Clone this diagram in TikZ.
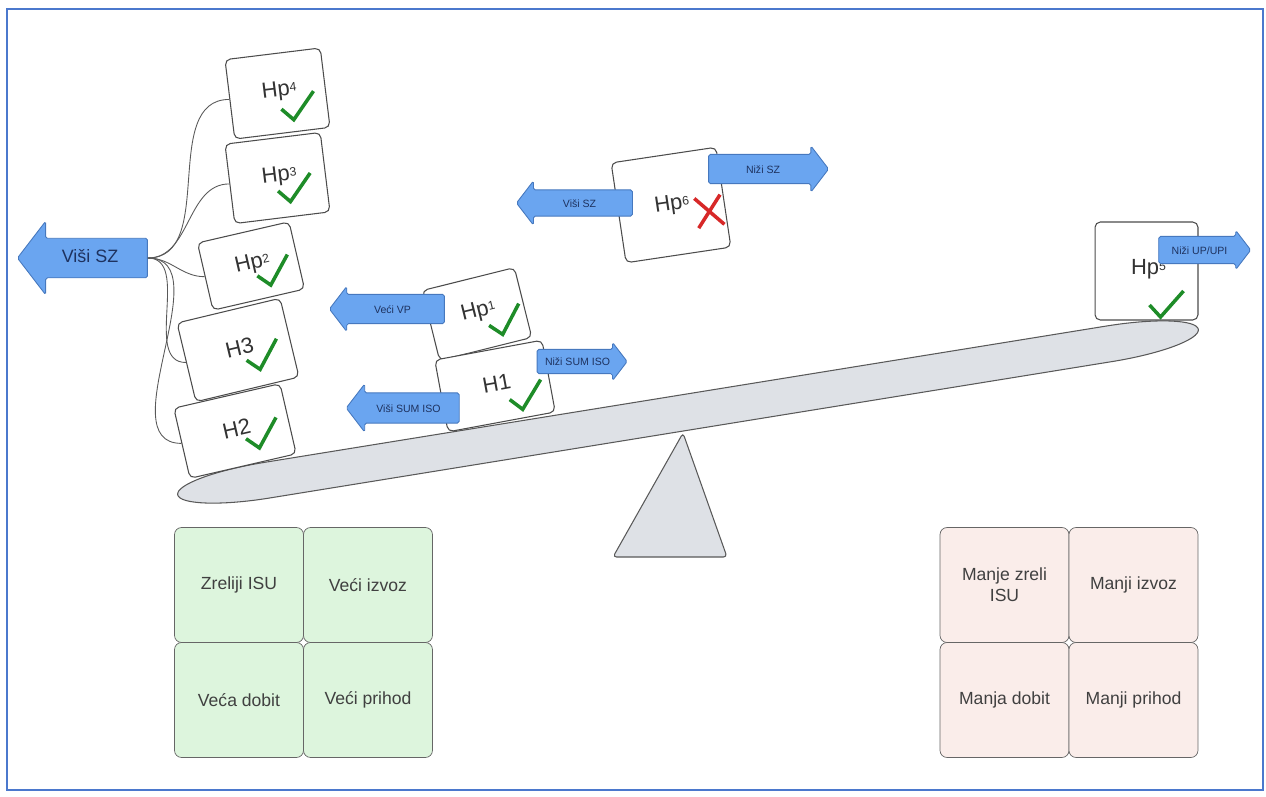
\documentclass[tikz,border=0pt]{standalone}
\usepackage{fontspec}
\setmainfont{Liberation Sans}
\usetikzlibrary{shapes.arrows,positioning}

\definecolor{frameblue}{RGB}{75,120,205}
\definecolor{arrowblue}{RGB}{106,165,240}
\definecolor{arrowedge}{RGB}{70,120,190}
\definecolor{arrowtext}{RGB}{30,50,95}
\definecolor{tickgreen}{RGB}{30,140,40}
\definecolor{crossred}{RGB}{215,40,40}
\definecolor{plankgray}{RGB}{222,225,230}
\definecolor{cellgreen}{RGB}{221,245,221}
\definecolor{cellpink}{RGB}{250,237,234}

\newcommand{\hpsub}[1]{\raisebox{1.9pt}{\fontsize{7}{8}\selectfont #1}}

\begin{document}
\begin{tikzpicture}[x=0.02cm,y=-0.02cm,
    card/.style={draw=black!70,fill=white,rounded corners=3pt,line width=0.6pt},
    cardtext/.style={font=\fontsize{12.5}{14}\selectfont,text=black!80},
    tick/.style={draw=tickgreen,line width=2pt},
    cross/.style={draw=crossred,line width=2pt},
    barrow/.style={single arrow,draw=arrowedge,fill=arrowblue,text=arrowtext,
      single arrow tip angle=105,rounded corners=1pt,inner xsep=1pt,line width=0.5pt,
      text height=0.7em,text depth=0.2em,font=\fontsize{6}{7}\selectfont},
    larrow/.style={barrow,shape border rotate=180},
    link/.style={draw=black!65,line width=0.5pt},
    seesaw/.style={draw=black!65,fill=plankgray,line width=0.6pt},
    gcell/.style={draw=black!60,fill=cellgreen,rounded corners=4pt,minimum width=2.58cm,
      minimum height=2.3cm,align=center,font=\fontsize{10}{12}\selectfont,text=black!75},
    pcell/.style={gcell,fill=cellpink}]

\useasboundingbox (0,0) rectangle (1266,796);
\draw[frameblue,line width=1.6pt] (7,9) rectangle (1263,790);

% seesaw
\begin{scope}[shift={(688,412)},rotate=9.2,y=0.02cm]
  \filldraw[seesaw] (-427,18) -- (427,18)
    arc[start angle=90,end angle=-90,x radius=90,y radius=18] -- (-427,-18)
    arc[start angle=270,end angle=90,x radius=90,y radius=18] -- cycle;
\end{scope}
\filldraw[seesaw,rounded corners=2pt] (683,433) -- (727,557) -- (613,557) -- cycle;

% cards
\foreach \nm/\cx/\cy/\ang/\w/\h/\txt/\kx/\ky in {
    hp4/277.5/93.5/7/1.92/1.60/{Hp\hpsub{4}}/19/15,
    hp3/277.5/178/7/1.92/1.60/{Hp\hpsub{3}}/16/12,
    hp2/251/266/13/1.88/1.38/{Hp\hpsub{2}}/21/10,
    h3/238/350/13.5/2.12/1.62/{H3}/23/11,
    h2/235/431/13/2.18/1.44/{H2}/26/9,
    hp1/477/314/14/1.90/1.44/{Hp\hpsub{1}}/26/13,
    h1/495/386/10.5/2.18/1.46/{H1}/29/15,
    hp5/1146.5/271/0/2.06/1.96/{Hp\hpsub{5}}/20/33}
{
  \begin{scope}[shift={(\cx,\cy)},rotate=\ang,transform shape]
    \node[card,minimum width=\w cm,minimum height=\h cm] (\nm) at (0,0) {};
    \node[cardtext] at (2,-2) {\txt};
    \draw[tick] (\kx-17,\ky+1) -- (\kx-6,\ky+13) -- (\kx+17,\ky-13);
  \end{scope}
}
\begin{scope}[shift={(671,205)},rotate=8.5,transform shape]
  \node[card,minimum width=2.12cm,minimum height=2.02cm] (hp6) at (0,0) {};
  \node[cardtext] at (1,0) {Hp\hpsub{6}};
  \draw[cross] (24,-3) -- (50,27) (50,-3) -- (24,27);
\end{scope}

% arrows
\node[larrow,minimum height=2.6cm,inner ysep=0.228cm,single arrow head extend=0.34cm,
  font=\fontsize{10.2}{12}\selectfont] (vsz) at (90,258) {Viši SZ};
\node[larrow,minimum height=2.3cm,inner ysep=0.125cm,single arrow head extend=0.16cm] (vvp) at (392.5,309) {Veći VP};
\node[larrow,minimum height=2.26cm,inner ysep=0.135cm,single arrow head extend=0.18cm] (vsum) at (408.5,408) {Viši SUM ISO};
\node[barrow,minimum height=1.8cm,inner ysep=0.075cm,single arrow head extend=0.14cm] (nsum) at (577.5,361.5) {Niži SUM ISO};
\node[larrow,minimum height=2.32cm,inner ysep=0.095cm,single arrow head extend=0.18cm] (vsz6) at (579.5,203) {Viši SZ};
\node[barrow,minimum height=2.4cm,inner ysep=0.125cm,single arrow head extend=0.17cm] (nsz) at (763,169) {Niži SZ};
\node[barrow,minimum height=1.84cm,inner ysep=0.105cm,single arrow head extend=0.12cm] (nup) at (1199.5,250) {Niži UP/UPI};

% links
\foreach \c in {hp4,hp3,hp2,h3,h2}
  \draw[link] (vsz.east) to[out=0,in=180] (\c.west);

% outcomes
\begin{scope}[on grid,node distance=2.3cm and 2.58cm]
  \node[gcell] (zreli) at (239,585) {Zreliji ISU};
  \node[gcell] (vizvoz) [right=of zreli] {Veći izvoz};
  \node[gcell] (vdobit) [below=of zreli] {Veća dobit};
  \node[gcell] (vprihod) [right=of vdobit] {Veći prihod};
  \node[pcell] (mzreli) at (1004.5,585) {Manje zreli\\ISU};
  \node[pcell] (mizvoz) [right=of mzreli] {Manji izvoz};
  \node[pcell] (mdobit) [below=of mzreli] {Manja dobit};
  \node[pcell] (mprihod) [right=of mdobit] {Manji prihod};
\end{scope}
\end{tikzpicture}
\end{document}
